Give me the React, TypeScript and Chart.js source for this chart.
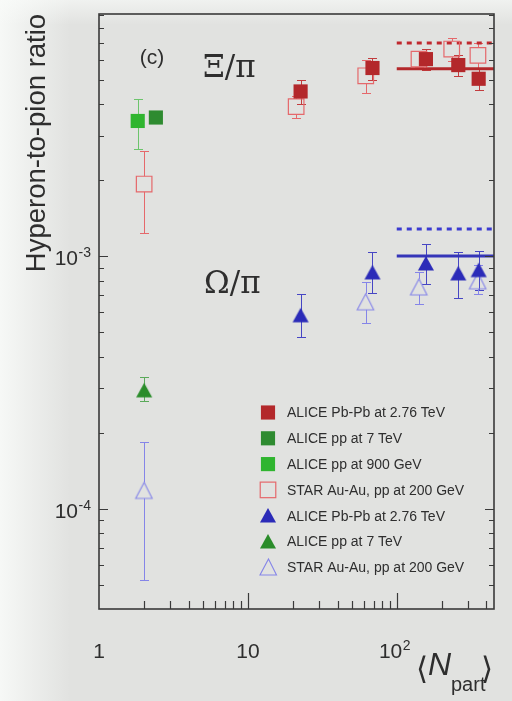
import React, { useEffect, useRef } from "react";
import { Chart, registerables } from "chart.js";
Chart.register(...registerables);

// ---------- Xi / pi ----------
const xiAlicePbPbN = [22.6, 68.7, 157, 259, 355];
const xiAlicePbPb = [4.49e-3, 5.56e-3, 6.03e-3, 5.71e-3, 5.04e-3];
const xiAlicePbPbHi = [4.99e-3, 6.1e-3, 6.6e-3, 6.28e-3, 5.5e-3];
const xiAlicePbPbLo = [4.0e-3, 5.0e-3, 5.44e-3, 5.15e-3, 4.53e-3];

const xiAlicePp7N = [2.41];
const xiAlicePp7 = [3.54e-3];

const xiAlicePp900N = [1.82];
const xiAlicePp900 = [3.43e-3];
const xiAlicePp900Hi = [4.19e-3];
const xiAlicePp900Lo = [2.65e-3];

const xiStarN = [2.01, 21.1, 61.9, 141, 234, 351];
const xiStar = [1.93e-3, 3.91e-3, 5.18e-3, 6.03e-3, 6.61e-3, 6.24e-3];
const xiStarHi = [2.62e-3, 4.3e-3, 5.96e-3, 6.5e-3, 7.28e-3, 6.98e-3];
const xiStarLo = [1.24e-3, 3.53e-3, 4.42e-3, 5.6e-3, 5.93e-3, 5.56e-3];

// ---------- Omega / pi ----------
const omAlicePbPbN = [22.6, 68.7, 157, 259, 355];
const omAlicePbPb = [5.83e-4, 8.62e-4, 9.35e-4, 8.54e-4, 8.8e-4];
const omAlicePbPbHi = [7.07e-4, 1.04e-3, 1.12e-3, 1.04e-3, 1.05e-3];
const omAlicePbPbLo = [4.78e-4, 7.11e-4, 7.74e-4, 6.8e-4, 7.33e-4];

const omAlicePp7N = [2.01];
const omAlicePp7 = [2.94e-4];
const omAlicePp7Hi = [3.33e-4];
const omAlicePp7Lo = [2.67e-4];

const omStarN = [2.01, 61.9, 141, 351];
const omStar = [1.18e-4, 6.59e-4, 7.55e-4, 7.98e-4];
const omStarHi = [1.84e-4, 7.87e-4, 8.66e-4, 9.2e-4];
const omStarLo = [5.19e-5, 5.41e-4, 6.45e-4, 7.1e-4];

// ---------- reference lines (from N=100 to the edge) ----------
const lineN = [100, 450];
const xiStarLevel = 6.98e-3;
const xiAliceLevel = 5.52e-3;
const omStarLevel = 1.28e-3;
const omAliceLevel = 1.0e-3;

// ---------- axes ----------
const xMin = 1;
const xMax = 450;
const yMin = 4e-5;
const yMax = 9.1e-3;
const xMajorTicks = [1, 10, 100];
const xMajorBase = ["1", "10", "10"];
const xMajorExp = ["", "", "2"];
const yMajorTicks = [1e-4, 1e-3];
const yMajorBase = ["10", "10"];
const yMajorExp = ["-4", "-3"];

const legendLabels = [
  "ALICE Pb-Pb at 2.76 TeV",
  "ALICE pp at 7 TeV",
  "ALICE pp at 900 GeV",
  "STAR Au-Au, pp at 200 GeV",
  "ALICE Pb-Pb at 2.76 TeV",
  "ALICE pp at 7 TeV",
  "STAR Au-Au, pp at 200 GeV",
];

const RED = "#b3282b";
const RED_OPEN = "#e5686b";
const DGREEN = "#2e8b30";
const LGREEN = "#2fb52f";
const BLUE = "#2b2bb8";
const BLUE_OPEN = "#8585e8";
const TGREEN = "#2a8c2a";
const TEXT = "#2e2e2e";

function pts(xs: number[], ys: number[]) {
  return xs.map((x, i) => ({ x, y: ys[i] }));
}

function triImg(w: number, h: number, fill: string | null, stroke: string | null, lw: number) {
  const c = document.createElement("canvas");
  const pad = 2;
  c.width = Math.ceil(w + pad * 2);
  c.height = Math.ceil(h + pad * 2);
  const g = c.getContext("2d")!;
  g.beginPath();
  g.moveTo(c.width / 2, pad);
  g.lineTo(pad + w, pad + h);
  g.lineTo(pad, pad + h);
  g.closePath();
  if (fill) {
    g.fillStyle = fill;
    g.fill();
  }
  if (stroke) {
    g.strokeStyle = stroke;
    g.lineWidth = lw;
    g.stroke();
  }
  return c;
}

function drawSup(ctx: CanvasRenderingContext2D, base: string, exp: string, x: number, baseline: number, align: "center" | "right") {
  ctx.font = "21px 'Liberation Sans', Arial, sans-serif";
  const wb = ctx.measureText(base).width;
  ctx.font = "14px 'Liberation Sans', Arial, sans-serif";
  const we = exp ? ctx.measureText(exp).width + 0.5 : 0;
  const total = wb + we;
  const left = align === "center" ? x - total / 2 : x - total;
  ctx.textAlign = "left";
  ctx.textBaseline = "alphabetic";
  ctx.font = "21px 'Liberation Sans', Arial, sans-serif";
  ctx.fillText(base, left, baseline);
  if (exp) {
    ctx.font = "14px 'Liberation Sans', Arial, sans-serif";
    ctx.fillText(exp, left + wb + 0.5, baseline - 8);
  }
}

export default function App() {
  const ref = useRef<HTMLCanvasElement | null>(null);

  useEffect(() => {
    const canvas = ref.current!;
    const triBlue = triImg(16, 14.5, BLUE, null, 0);
    const triGreen = triImg(16, 14.5, TGREEN, null, 0);
    const triOpen = triImg(16.5, 16, null, BLUE_OPEN, 1.1);

    const bgPlugin = {
      id: "bg",
      beforeDraw(chart: any) {
        const ctx = chart.ctx as CanvasRenderingContext2D;
        const W = chart.width, H = chart.height;
        ctx.save();
        ctx.fillStyle = "#e1e2e0";
        ctx.fillRect(0, 0, W, H);
        let g = ctx.createLinearGradient(0, 0, 70, 0);
        g.addColorStop(0, "rgba(250,252,250,0.85)");
        g.addColorStop(1, "rgba(250,252,250,0)");
        ctx.fillStyle = g;
        ctx.fillRect(0, 0, 70, H);
        g = ctx.createLinearGradient(0, 0, 0, 25);
        g.addColorStop(0, "rgba(250,252,250,0.6)");
        g.addColorStop(1, "rgba(250,252,250,0)");
        ctx.fillStyle = g;
        ctx.fillRect(0, 0, W, 25);
        ctx.restore();
      },
    };

    const errPlugin = {
      id: "errbars",
      beforeDatasetsDraw(chart: any) {
        const ctx = chart.ctx as CanvasRenderingContext2D;
        const xs = chart.scales.x, ys = chart.scales.y;
        ctx.save();
        ctx.lineWidth = 1;
        chart.data.datasets.forEach((ds: any) => {
          if (!ds.errHi) return;
          ctx.strokeStyle = ds.errColor;
          const gap = ds.errGap || 0;
          ds.data.forEach((p: any, j: number) => {
            const px = Math.round(xs.getPixelForValue(p.x)) + 0.5;
            const py = ys.getPixelForValue(p.y);
            const hi = Math.round(ys.getPixelForValue(ds.errHi[j])) + 0.5;
            const lo = Math.round(ys.getPixelForValue(ds.errLo[j])) + 0.5;
            ctx.beginPath();
            if (py - hi > gap) {
              ctx.moveTo(px, py - gap);
              ctx.lineTo(px, hi);
              ctx.moveTo(px - 4.5, hi);
              ctx.lineTo(px + 4.5, hi);
            }
            if (lo - py > gap) {
              ctx.moveTo(px, py + gap);
              ctx.lineTo(px, lo);
              ctx.moveTo(px - 4.5, lo);
              ctx.lineTo(px + 4.5, lo);
            }
            ctx.stroke();
          });
        });
        ctx.restore();
      },
    };

    const decoPlugin = {
      id: "deco",
      afterDraw(chart: any) {
        const ctx = chart.ctx as CanvasRenderingContext2D;
        const a = chart.chartArea;
        const xs = chart.scales.x, ys = chart.scales.y;
        ctx.save();
        // ticks
        ctx.strokeStyle = "#3a3a3a";
        ctx.lineWidth = 1.2;
        ctx.beginPath();
        for (let d = 1; d <= 100; d *= 10) {
          for (let m = 1; m <= 9; m++) {
            const v = d * m;
            if (v <= xMin || v >= xMax) continue;
            const px = Math.round(xs.getPixelForValue(v)) + 0.5;
            const len = m === 1 ? 16 : 8;
            ctx.moveTo(px, a.bottom);
            ctx.lineTo(px, a.bottom - len);
          }
        }
        for (let d = 1e-5; d <= 1e-3 * 1.01; d *= 10) {
          for (let m = 1; m <= 9; m++) {
            const v = d * m;
            if (v <= yMin * 1.001 || v >= yMax) continue;
            const py = Math.round(ys.getPixelForValue(v)) + 0.5;
            const len = m === 1 ? 9 : 5;
            ctx.moveTo(a.left, py);
            ctx.lineTo(a.left + len, py);
            ctx.moveTo(a.right, py);
            ctx.lineTo(a.right - len, py);
          }
        }
        ctx.stroke();
        // frame
        ctx.lineWidth = 1.6;
        ctx.strokeStyle = "#3a3a3a";
        ctx.strokeRect(a.left, a.top, a.right - a.left, a.bottom - a.top);

        // tick labels
        ctx.fillStyle = TEXT;
        xMajorTicks.forEach((v, i) => {
          drawSup(ctx, xMajorBase[i], xMajorExp[i], xs.getPixelForValue(v) - (xMajorExp[i] ? 2 : 0), 658, "center");
        });
        yMajorTicks.forEach((v, i) => {
          const py = ys.getPixelForValue(v);
          drawSup(ctx, yMajorBase[i], yMajorExp[i], 91, py + 9, "right");
        });

        // axis titles
        ctx.save();
        ctx.translate(45, 143);
        ctx.rotate(-Math.PI / 2);
        ctx.textAlign = "center";
        ctx.textBaseline = "alphabetic";
        ctx.font = "27.5px 'Liberation Sans', Arial, sans-serif";
        ctx.fillText("Hyperon-to-pion ratio", 0, 0);
        ctx.restore();

        ctx.textAlign = "left";
        ctx.textBaseline = "alphabetic";
        ctx.font = "31px 'DejaVu Sans', sans-serif";
        ctx.fillText("\u27E8", 416, 679);
        ctx.font = "italic 32px 'Liberation Sans', Arial, sans-serif";
        ctx.fillText("N", 428, 675);
        ctx.font = "20px 'Liberation Sans', Arial, sans-serif";
        ctx.fillText("part", 451, 691);
        ctx.font = "31px 'DejaVu Sans', sans-serif";
        ctx.fillText("\u27E9", 481, 679);

        // panel annotations
        ctx.font = "21px 'Liberation Sans', Arial, sans-serif";
        ctx.textAlign = "center";
        ctx.fillText("(c)", 152, 64);
        ctx.textAlign = "left";
        ctx.font = "31px 'DejaVu Serif', 'Liberation Serif', serif";
        ctx.fillText("\u039E/\u03C0", 203, 77);
        ctx.fillText("\u03A9/\u03C0", 204, 293);

        // legend
        const lx = 268, ly0 = 412.5, step = 25.8;
        legendLabels.forEach((lab, i) => {
          const y = ly0 + i * step;
          const ds: any = chart.data.datasets[i];
          const ps = ds.pointStyle;
          if (ps instanceof HTMLCanvasElement) {
            ctx.drawImage(ps, Math.round(lx - ps.width / 2), Math.round(y - ps.height / 2));
          } else {
            const s = ds.pointRadius * Math.SQRT1_2;
            if (ds.backgroundColor && ds.backgroundColor !== "transparent") {
              ctx.fillStyle = ds.backgroundColor;
              ctx.fillRect(lx - s, y - s, 2 * s, 2 * s);
            } else {
              ctx.strokeStyle = ds.borderColor;
              ctx.lineWidth = ds.borderWidth;
              ctx.strokeRect(lx - s, y - s, 2 * s, 2 * s);
            }
          }
          ctx.fillStyle = TEXT;
          ctx.font = "14px 'Liberation Sans', Arial, sans-serif";
          ctx.textAlign = "left";
          ctx.textBaseline = "middle";
          ctx.fillText(lab, 287, y + 1);
        });
        ctx.restore();
      },
    };

    const lineDs = (lvl: number, color: string, dash: number[]) => ({
      data: pts(lineN, [lvl, lvl]),
      showLine: true,
      borderColor: color,
      borderWidth: 3,
      borderDash: dash,
      pointRadius: 0,
      backgroundColor: color,
    });

    const chart = new Chart(canvas, {
      type: "scatter",
      data: {
        datasets: [
          {
            data: pts(xiAlicePbPbN, xiAlicePbPb),
            pointStyle: "rect",
            pointRadius: 10,
            backgroundColor: RED,
            borderColor: RED,
            borderWidth: 0,
            errHi: xiAlicePbPbHi,
            errLo: xiAlicePbPbLo,
            errColor: "#c23c3e",
          } as any,
          {
            data: pts(xiAlicePp7N, xiAlicePp7),
            pointStyle: "rect",
            pointRadius: 10,
            backgroundColor: DGREEN,
            borderColor: DGREEN,
            borderWidth: 0,
          },
          {
            data: pts(xiAlicePp900N, xiAlicePp900),
            pointStyle: "rect",
            pointRadius: 10,
            backgroundColor: LGREEN,
            borderColor: LGREEN,
            borderWidth: 0,
            errHi: xiAlicePp900Hi,
            errLo: xiAlicePp900Lo,
            errColor: "#6cc46c",
          } as any,
          {
            data: pts(xiStarN, xiStar),
            pointStyle: "rect",
            pointRadius: 11,
            backgroundColor: "transparent",
            borderColor: RED_OPEN,
            borderWidth: 1.2,
            errHi: xiStarHi,
            errLo: xiStarLo,
            errColor: RED_OPEN,
            errGap: 7.8,
          } as any,
          {
            data: pts(omAlicePbPbN, omAlicePbPb),
            pointStyle: triBlue,
            pointRadius: 9,
            backgroundColor: BLUE,
            borderColor: BLUE,
            errHi: omAlicePbPbHi,
            errLo: omAlicePbPbLo,
            errColor: "#4646c4",
          } as any,
          {
            data: pts(omAlicePp7N, omAlicePp7),
            pointStyle: triGreen,
            pointRadius: 9,
            backgroundColor: TGREEN,
            borderColor: TGREEN,
            errHi: omAlicePp7Hi,
            errLo: omAlicePp7Lo,
            errColor: "#5aaa5a",
          } as any,
          {
            data: pts(omStarN, omStar),
            pointStyle: triOpen,
            pointRadius: 9,
            backgroundColor: "transparent",
            borderColor: BLUE_OPEN,
            errHi: omStarHi,
            errLo: omStarLo,
            errColor: BLUE_OPEN,
            errGap: 8,
          } as any,
          lineDs(xiStarLevel, "#c0282e", [5, 5]) as any,
          lineDs(xiAliceLevel, RED, []) as any,
          lineDs(omStarLevel, "#3a3ad0", [5, 5]) as any,
          lineDs(omAliceLevel, "#3535b8", []) as any,
        ],
      },
      options: {
        animation: false,
        responsive: false,
        devicePixelRatio: 1,
        events: [],
        layout: { padding: { left: 99, top: 14, right: 18, bottom: 92 } },
        scales: {
          x: { type: "logarithmic", min: xMin, max: xMax, display: false },
          y: { type: "logarithmic", min: yMin, max: yMax, display: false },
        },
        plugins: { legend: { display: false }, tooltip: { enabled: false } },
      },
      plugins: [bgPlugin, errPlugin, decoPlugin],
    });
    return () => chart.destroy();
  }, []);

  return (
    <div style={{ position: "fixed", left: 0, top: 0, width: 512, height: 701 }}>
      <canvas ref={ref} width={512} height={701} style={{ width: 512, height: 701, display: "block" }} />
    </div>
  );
}
